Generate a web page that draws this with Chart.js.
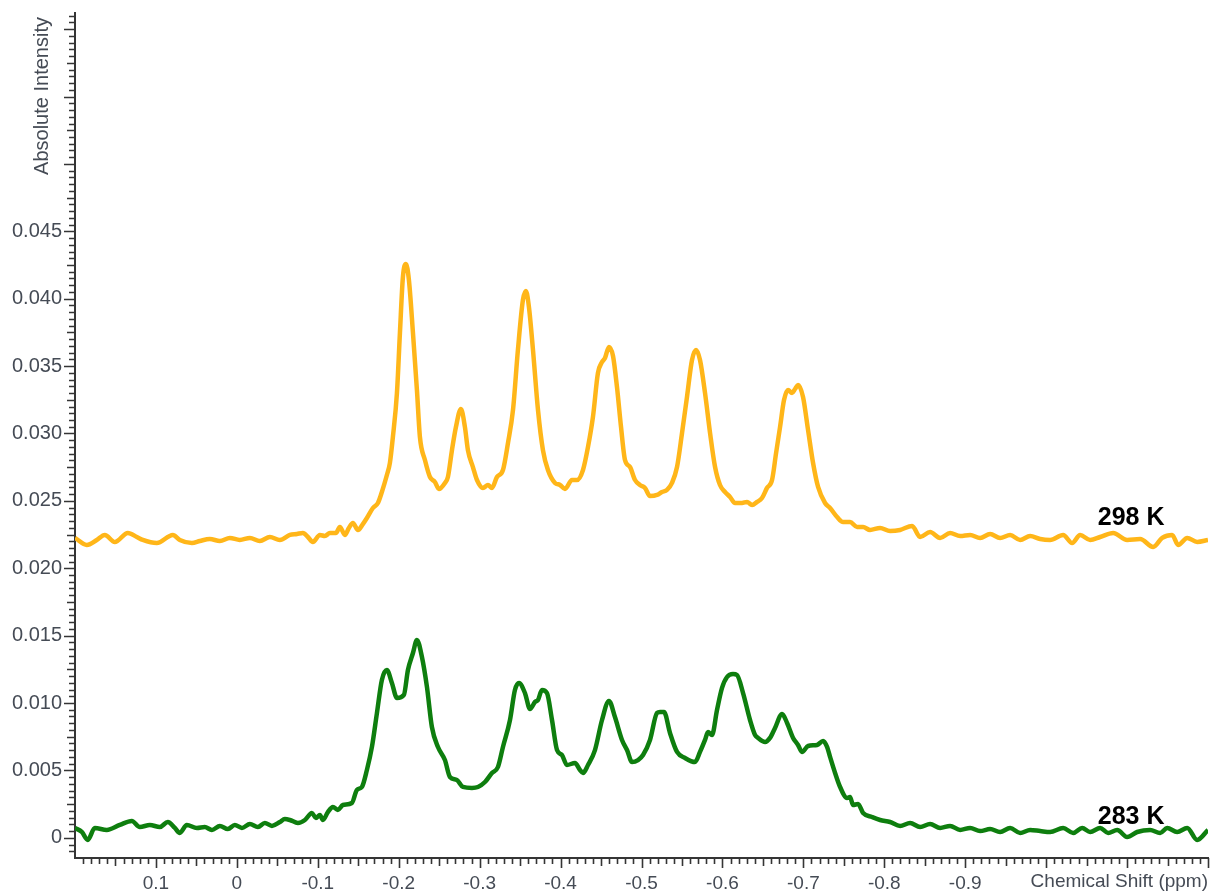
<!DOCTYPE html>
<html>
<head>
<meta charset="utf-8">
<title>Chemical Shift</title>
<script src="https://cdn.jsdelivr.net/npm/chart.js@4.4.1/dist/chart.umd.min.js"></script>
<style>
  html, body { margin: 0; padding: 0; background: #fff; }
  canvas { display: block; }
</style>
</head>
<body>
<canvas id="nmrChart" width="1210" height="894"></canvas>
<script>
// 298 K spectrum: chemical shift (ppm) / absolute intensity
const shift298 = [
  0.2, 0.1854, 0.1731, 0.1632, 0.1508, 0.1347, 0.1236, 0.1162, 0.0989, 0.0791,
  0.0705, 0.0556, 0.0457, 0.0334, 0.0210, 0.0087, -0.0037, -0.0161, -0.0284, -0.0408,
  -0.0532, -0.0655, -0.0742, -0.0816, -0.0878, -0.0939, -0.1026, -0.1088, -0.1150, -0.1224,
  -0.1273, -0.1335, -0.1384, -0.1434, -0.1496, -0.1557, -0.1607, -0.1681, -0.1743, -0.1792,
  -0.1854, -0.1891, -0.1928, -0.1978, -0.2015, -0.2052, -0.2089, -0.2126, -0.2176, -0.2225,
  -0.2262, -0.2324, -0.2386, -0.2447, -0.2497, -0.2571, -0.2608, -0.2658, -0.2707, -0.2769,
  -0.2818, -0.2855, -0.2917, -0.2967, -0.3041, -0.3103, -0.3152, -0.3214, -0.3288, -0.3350,
  -0.3412, -0.3473, -0.3535, -0.3572, -0.3609, -0.3659, -0.3721, -0.3782, -0.3844, -0.3931,
  -0.3993, -0.4054, -0.4141, -0.4203, -0.4277, -0.4339, -0.4400, -0.4462, -0.4512, -0.4549,
  -0.4598, -0.4648, -0.4697, -0.4747, -0.4796, -0.4858, -0.4920, -0.4981, -0.5043, -0.5105,
  -0.5192, -0.5253, -0.5315, -0.5377, -0.5439, -0.5501, -0.5562, -0.5624, -0.5674, -0.5723,
  -0.5785, -0.5847, -0.5909, -0.5970, -0.6032, -0.6094, -0.6156, -0.6242, -0.6304, -0.6366,
  -0.6428, -0.6489, -0.6551, -0.6613, -0.6663, -0.6712, -0.6761, -0.6811, -0.6860, -0.6897,
  -0.6934, -0.6996, -0.7058, -0.7120, -0.7182, -0.7268, -0.7330, -0.7417, -0.7491, -0.7577,
  -0.7664, -0.7738, -0.7824, -0.7948, -0.8072, -0.8195, -0.8344, -0.8443, -0.8566, -0.8690,
  -0.8813, -0.8937, -0.9061, -0.9184, -0.9308, -0.9431, -0.9555, -0.9679, -0.9802, -0.9926,
  -1.0049, -1.0210, -1.0321, -1.0420, -1.0544, -1.0667, -1.0828, -1.1001, -1.1162, -1.1323,
  -1.1434, -1.1557, -1.1631, -1.1743, -1.1866, -1.2
];
const intensity298 = [
  0.02225, 0.02173, 0.02210, 0.02247, 0.02195, 0.02262, 0.02232, 0.02210, 0.02187, 0.02247,
  0.02210, 0.02187, 0.02202, 0.02217, 0.02202, 0.02225, 0.02210, 0.02225, 0.02202, 0.02232,
  0.02210, 0.02247, 0.02254, 0.02262, 0.02232, 0.02195, 0.02247, 0.02239, 0.02262, 0.02262,
  0.02306, 0.02247, 0.02299, 0.02336, 0.02284, 0.02328, 0.02373, 0.02447, 0.02484, 0.02566,
  0.02692, 0.02781, 0.02974, 0.03300, 0.03746, 0.04161, 0.04258, 0.04139, 0.03746, 0.03323,
  0.02974, 0.02803, 0.02677, 0.02640, 0.02588, 0.02633, 0.02677, 0.02877, 0.03048, 0.03182,
  0.03048, 0.02877, 0.02751, 0.02655, 0.02596, 0.02618, 0.02596, 0.02677, 0.02729, 0.02929,
  0.03174, 0.03620, 0.03991, 0.04057, 0.03939, 0.03620, 0.03174, 0.02877, 0.02729, 0.02633,
  0.02618, 0.02588, 0.02655, 0.02655, 0.02729, 0.02900, 0.03122, 0.03449, 0.03530, 0.03560,
  0.03642, 0.03575, 0.03345, 0.03048, 0.02803, 0.02751, 0.02655, 0.02618, 0.02596, 0.02536,
  0.02544, 0.02566, 0.02581, 0.02633, 0.02751, 0.03004, 0.03271, 0.03545, 0.03620, 0.03545,
  0.03300, 0.03004, 0.02751, 0.02618, 0.02566, 0.02529, 0.02484, 0.02484, 0.02492, 0.02469,
  0.02492, 0.02521, 0.02596, 0.02655, 0.02855, 0.03048, 0.03248, 0.03323, 0.03300, 0.03330,
  0.03360, 0.03271, 0.03026, 0.02781, 0.02603, 0.02484, 0.02447, 0.02380, 0.02343, 0.02343,
  0.02306, 0.02306, 0.02284, 0.02299, 0.02276, 0.02284, 0.02314, 0.02232, 0.02269, 0.02225,
  0.02262, 0.02239, 0.02247, 0.02225, 0.02254, 0.02225, 0.02247, 0.02210, 0.02239, 0.02217,
  0.02210, 0.02247, 0.02187, 0.02247, 0.02210, 0.02232, 0.02262, 0.02210, 0.02217, 0.02158,
  0.02225, 0.02247, 0.02173, 0.02225, 0.02195, 0.02210
];

// 283 K spectrum
const shift283 = [
  0.2, 0.1916, 0.1842, 0.1755, 0.1607, 0.1446, 0.1298, 0.1199, 0.1075, 0.0952,
  0.0853, 0.0766, 0.0705, 0.0618, 0.0494, 0.0396, 0.0309, 0.0210, 0.0111, 0.0025,
  -0.0062, -0.0161, -0.0260, -0.0346, -0.0433, -0.0532, -0.0593, -0.0655, -0.0754, -0.0841,
  -0.0927, -0.0977, -0.1026, -0.1063, -0.1125, -0.1187, -0.1248, -0.1310, -0.1421, -0.1483,
  -0.1545, -0.1607, -0.1669, -0.1731, -0.1792, -0.1854, -0.1916, -0.1978, -0.2064, -0.2114,
  -0.2176, -0.2225, -0.2287, -0.2349, -0.2410, -0.2485, -0.2571, -0.2633, -0.2719, -0.2794,
  -0.2905, -0.2979, -0.3066, -0.3152, -0.3226, -0.3288, -0.3375, -0.3436, -0.3486, -0.3560,
  -0.3622, -0.3684, -0.3721, -0.3770, -0.3832, -0.3894, -0.3956, -0.4017, -0.4079, -0.4178,
  -0.4240, -0.4277, -0.4339, -0.4425, -0.4512, -0.4598, -0.4672, -0.4759, -0.4821, -0.4883,
  -0.4957, -0.5019, -0.5105, -0.5192, -0.5229, -0.5278, -0.5352, -0.5439, -0.5538, -0.5661,
  -0.5723, -0.5785, -0.5822, -0.5871, -0.5933, -0.5995, -0.6057, -0.6131, -0.6180, -0.6255,
  -0.6341, -0.6403, -0.6440, -0.6527, -0.6588, -0.6650, -0.6737, -0.6799, -0.6873, -0.6934,
  -0.6983, -0.7058, -0.7169, -0.7244, -0.7293, -0.7330, -0.7392, -0.7454, -0.7540, -0.7577,
  -0.7614, -0.7676, -0.7738, -0.7849, -0.7948, -0.8072, -0.8195, -0.8319, -0.8443, -0.8566,
  -0.8690, -0.8813, -0.8937, -0.9061, -0.9184, -0.9308, -0.9431, -0.9555, -0.9679, -0.9802,
  -0.9926, -1.0049, -1.0210, -1.0334, -1.0445, -1.0544, -1.0667, -1.0766, -1.0878, -1.1001,
  -1.1125, -1.1285, -1.1409, -1.1496, -1.1619, -1.1743, -1.1866, -1.2
];
const intensity283 = [
  0.00073, 0.00043, -0.00016, 0.00073, 0.00058, 0.00095, 0.00125, 0.00080, 0.00095, 0.00080,
  0.00117, 0.00073, 0.00036, 0.00095, 0.00073, 0.00080, 0.00058, 0.00088, 0.00065, 0.00095,
  0.00073, 0.00102, 0.00080, 0.00110, 0.00088, 0.00117, 0.00139, 0.00132, 0.00110, 0.00132,
  0.00184, 0.00147, 0.00169, 0.00132, 0.00191, 0.00229, 0.00206, 0.00243, 0.00258, 0.00355,
  0.00377, 0.00503, 0.00674, 0.00926, 0.01171, 0.01245, 0.01149, 0.01037, 0.01060, 0.01245,
  0.01371, 0.01468, 0.01342, 0.01119, 0.00822, 0.00674, 0.00577, 0.00451, 0.00429, 0.00377,
  0.00370, 0.00377, 0.00414, 0.00481, 0.00525, 0.00674, 0.00874, 0.01097, 0.01149, 0.01074,
  0.00956, 0.01008, 0.01022, 0.01097, 0.01074, 0.00874, 0.00651, 0.00614, 0.00540, 0.00555,
  0.00503, 0.00481, 0.00540, 0.00651, 0.00874, 0.01015, 0.00896, 0.00726, 0.00651, 0.00562,
  0.00577, 0.00614, 0.00726, 0.00926, 0.00933, 0.00933, 0.00778, 0.00637, 0.00592, 0.00562,
  0.00637, 0.00726, 0.00785, 0.00763, 0.00948, 0.01112, 0.01193, 0.01215, 0.01208, 0.01074,
  0.00874, 0.00763, 0.00741, 0.00711, 0.00741, 0.00815, 0.00919, 0.00852, 0.00741, 0.00689,
  0.00637, 0.00681, 0.00689, 0.00718, 0.00674, 0.00600, 0.00481, 0.00377, 0.00295, 0.00303,
  0.00243, 0.00251, 0.00184, 0.00154, 0.00132, 0.00117, 0.00088, 0.00110, 0.00080, 0.00102,
  0.00073, 0.00088, 0.00058, 0.00073, 0.00050, 0.00065, 0.00043, 0.00073, 0.00036, 0.00058,
  0.00050, 0.00043, 0.00073, 0.00036, 0.00073, 0.00043, 0.00073, 0.00036, 0.00058, 0.00006,
  0.00043, 0.00058, 0.00036, 0.00073, 0.00043, 0.00073, -0.00016, 0.00058
];

const xTicks = [0.1, 0, -0.1, -0.2, -0.3, -0.4, -0.5, -0.6, -0.7, -0.8, -0.9];
const yTicks = [0, 0.005, 0.010, 0.015, 0.020, 0.025, 0.030, 0.035, 0.040, 0.045];

const seriesNames = ["298 K", "283 K"];
const seriesColors = ["#ffb619", "#0e7e0e"];

const textColor = "#454b55";
const axisColor = "#353535";
const fontFamily = "Arial, 'Liberation Sans', sans-serif";

function toPoints(xs, ys) {
  return xs.map((x, i) => ({ x: x, y: ys[i] }));
}

// minor / medium tick marks, axis titles and the temperature labels
const decorations = {
  id: "decorations",
  afterDraw(chart) {
    const { ctx, chartArea, scales: { x, y } } = chart;
    ctx.save();
    ctx.strokeStyle = axisColor;
    ctx.lineWidth = 1.6;
    ctx.beginPath();
    // y ticks every 0.0005, longer at 0.0025 and 0.005
    for (let i = -3; i <= 122; i++) {
      const py = Math.round(y.getPixelForValue(i * 0.0005)) + 0.5;
      if (py < chartArea.top - 1 || py > chartArea.bottom) continue;
      const len = i % 10 === 0 ? 11 : (i % 5 === 0 ? 8 : 6);
      ctx.moveTo(chartArea.left, py);
      ctx.lineTo(chartArea.left - len, py);
    }
    // x ticks every 0.01, longer at 0.05 and 0.1
    for (let i = -120; i <= 20; i++) {
      const px = Math.round(x.getPixelForValue(i * 0.01)) + 0.5;
      if (px < chartArea.left + 1 || px > chartArea.right + 1) continue;
      const len = i % 10 === 0 ? 10 : (i % 5 === 0 ? 8 : 6);
      ctx.moveTo(px, chartArea.bottom);
      ctx.lineTo(px, chartArea.bottom + len);
    }
    ctx.stroke();

    // axis titles
    ctx.fillStyle = textColor;
    ctx.font = "19px " + fontFamily;
    ctx.textAlign = "right";
    ctx.textBaseline = "middle";
    ctx.fillText("Chemical Shift (ppm)", chartArea.right, 882);
    ctx.save();
    ctx.translate(42, 96);
    ctx.rotate(-Math.PI / 2);
    ctx.textAlign = "center";
    ctx.font = "20px " + fontFamily;
    ctx.fillText("Absolute Intensity", 0, 0);
    ctx.restore();

    // series labels
    ctx.fillStyle = "#000";
    ctx.font = "bold 25px " + fontFamily;
    ctx.textAlign = "center";
    ctx.fillText(seriesNames[0], x.getPixelForValue(-1.105), y.getPixelForValue(0.0237));
    ctx.fillText(seriesNames[1], x.getPixelForValue(-1.105), y.getPixelForValue(0.0015));
    ctx.restore();
  }
};

const ctx = document.getElementById("nmrChart").getContext("2d");
new Chart(ctx, {
  type: "line",
  data: {
    datasets: [
      {
        label: seriesNames[0],
        data: toPoints(shift298, intensity298),
        borderColor: seriesColors[0],
        borderWidth: 4.5,
        pointRadius: 0,
        cubicInterpolationMode: "monotone",
        fill: false
      },
      {
        label: seriesNames[1],
        data: toPoints(shift283, intensity283),
        borderColor: seriesColors[1],
        borderWidth: 4.5,
        pointRadius: 0,
        cubicInterpolationMode: "monotone",
        fill: false
      }
    ]
  },
  options: {
    responsive: false,
    animation: false,
    devicePixelRatio: 1,
    layout: { padding: { top: 13, right: 2, left: 0, bottom: 0 } },
    plugins: {
      legend: { display: false },
      tooltip: { enabled: false }
    },
    scales: {
      x: {
        type: "linear",
        reverse: true,
        min: -1.2,
        max: 0.2,
        afterBuildTicks: (scale) => { scale.ticks = xTicks.map(v => ({ value: v })); },
        afterFit: (scale) => {
          scale.height = 36;
          scale.paddingLeft = 0;
          scale.paddingRight = 0;
        },
        grid: { display: false, drawTicks: false },
        border: { display: true, color: axisColor, width: 2 },
        ticks: {
          color: textColor,
          font: { size: 19, family: fontFamily },
          padding: 14,
          maxRotation: 0,
          autoSkip: false,
          callback: (v) => String(Math.round(v * 10) / 10)
        }
      },
      y: {
        type: "linear",
        min: -0.0015,
        max: 0.0612,
        afterBuildTicks: (scale) => { scale.ticks = yTicks.map(v => ({ value: v })); },
        afterFit: (scale) => {
          scale.width = 75;
          scale.paddingTop = 0;
          scale.paddingBottom = 0;
        },
        grid: { display: false, drawTicks: false },
        border: { display: true, color: axisColor, width: 2 },
        ticks: {
          color: textColor,
          font: { size: 20, family: fontFamily },
          padding: 13,
          autoSkip: false,
          callback: (v) => v === 0 ? "0" : v.toFixed(3)
        }
      }
    }
  },
  plugins: [decorations]
});
</script>
</body>
</html>
